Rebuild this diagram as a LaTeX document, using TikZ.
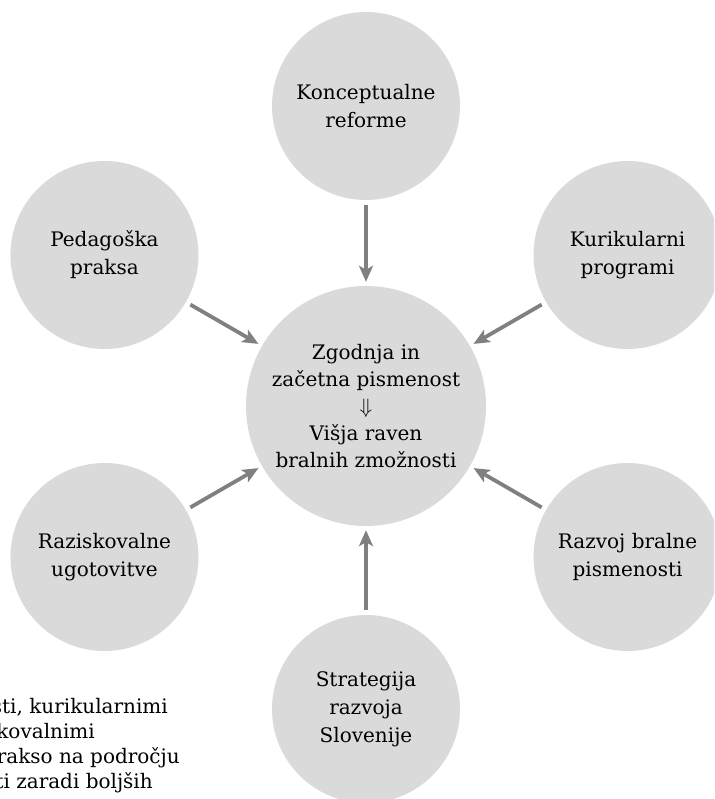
\documentclass[tikz,border=0pt]{standalone}
\usepackage{fontspec}
\setmainfont{DejaVu Serif}
\usetikzlibrary{arrows.meta}
\definecolor{krogsiva}{HTML}{DADADA}
\definecolor{puscsiva}{HTML}{808080}

\begin{document}
\begin{tikzpicture}[x=1pt,y=1pt,
  krog/.style={circle,fill=krogsiva,minimum size=188pt,inner sep=0pt,align=center,font=\fontsize{20}{28}\selectfont},
  srednji/.style={krog,minimum size=240pt,font=\fontsize{20}{27}\selectfont},
  vrstica/.style={anchor=base east,inner sep=0pt,font=\fontsize{20}{27}\selectfont},
  puscica/.style={draw=puscsiva,line width=3.8pt,-{Stealth[length=16pt,width=14pt,inset=4pt]},shorten <=5pt,shorten >=4pt}]
\clip (-366,-393) rectangle (348,406);
\node[srednji] (sred) at (0,0) {Zgodnja in\\začetna pismenost\\$\Downarrow$\\Višja raven\\bralnih zmožnosti};
\node[krog] (konc) at (90:300) {Konceptualne\\reforme};
\node[krog] (kuri) at (30:302) {Kurikularni\\programi};
\node[krog] (razv) at (-30:302) {Razvoj bralne\\pismenosti};
\node[krog] (stra) at (-90:303) {Strategija\\razvoja\\Slovenije};
\node[krog] (razi) at (-150:302) {Raziskovalne\\ugotovitve};
\node[krog] (peda) at (150:302) {Pedagoška\\praksa};
\draw[puscica] (konc) -- (sred);
\draw[puscica] (kuri) -- (sred);
\draw[puscica] (razv) -- (sred);
\draw[puscica] (stra) -- (sred);
\draw[puscica] (razi) -- (sred);
\draw[puscica] (peda) -- (sred);
% odrezan tekst spodaj levo
\node[vrstica] (vrs1) at (-198,-307) {sti, kurikularnimi};
\node[vrstica] (vrs2) at (-271,-332) {skovalnimi};
\node[vrstica] (vrs3) at (-186,-357) {prakso na področju};
\node[vrstica] (vrs4) at (-213,-382) {sti zaradi boljših};
\end{tikzpicture}
\end{document}
